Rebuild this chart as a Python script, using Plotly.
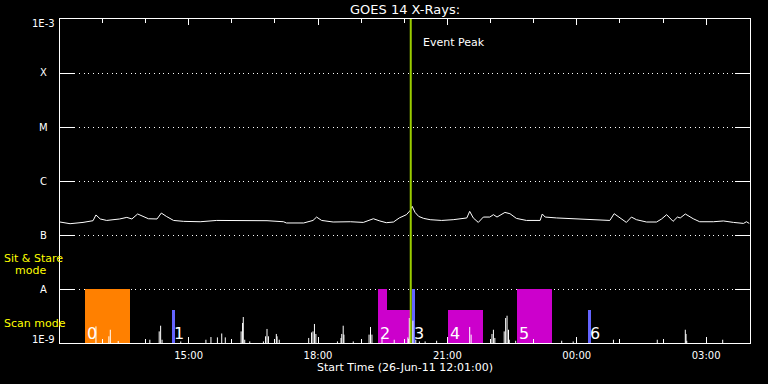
import math
import plotly.graph_objects as go
from datetime import datetime

# ---------------- data ----------------
DAY1 = "2011-06-26"
DAY2 = "2011-06-27"

title_text = "GOES 14 X-Rays:"
xlabel_text = "Start Time (26-Jun-11 12:01:00)"
x_start = "2011-06-26 12:01"
x_end = "2011-06-27 04:01"
event_peak = "2011-06-26 20:09"
event_text = "Event Peak"

level_vals = [1e-9, 1e-8, 1e-7, 1e-6, 1e-5, 1e-4, 1e-3]
level_text = ["1E-9", "A", "B", "C", "M", "X", "1E-3"]

# GOES 1-8 A flux (W/m^2)
goes_time = ["12:01", "12:15", "12:33", "12:47", "12:51", "12:57", "13:06", "13:15", "13:24", "13:34",
             "13:41", "13:49", "13:55", "14:04", "14:16", "14:22", "14:29", "14:39", "14:53", "15:16",
             "15:39", "16:02", "16:25", "16:49", "17:12", "17:16", "17:40", "17:53", "17:58", "18:05",
             "18:21", "18:45", "19:03", "19:17", "19:26", "19:35", "19:45", "19:53", "20:03", "20:08",
             "20:11", "20:15", "20:20", "20:27", "20:36", "20:52", "21:08", "21:27", "21:31", "21:36",
             "21:43", "21:50", "21:59", "22:04", "22:09", "22:20", "22:27", "22:36", "22:50", "23:09",
             "23:12", "23:16", "23:32", "00:05", "00:28", "00:46", "00:52", "01:00", "01:09", "01:16",
             "01:23", "01:37", "01:51", "01:58", "02:05", "02:14", "02:20", "02:24", "02:31", "02:42",
             "02:51", "03:10", "03:24", "03:38", "03:52", "03:56", "04:00"]
goes_flux = [1.74e-7, 1.62e-7, 1.71e-7, 1.84e-7, 2.35e-7, 1.98e-7, 1.86e-7, 1.92e-7, 1.98e-7, 2.12e-7,
             1.98e-7, 2.45e-7, 2.28e-7, 2.00e-7, 1.98e-7, 2.55e-7, 2.21e-7, 1.86e-7, 1.79e-7, 1.76e-7,
             1.86e-7, 1.86e-7, 1.82e-7, 1.84e-7, 1.76e-7, 1.67e-7, 1.67e-7, 1.86e-7, 2.15e-7, 1.86e-7,
             1.74e-7, 1.76e-7, 1.71e-7, 2.00e-7, 1.82e-7, 1.69e-7, 1.74e-7, 2.07e-7, 2.38e-7, 2.82e-7,
             3.39e-7, 2.62e-7, 2.21e-7, 2.03e-7, 1.92e-7, 1.86e-7, 1.92e-7, 2.07e-7, 2.74e-7, 2.07e-7,
             1.71e-7, 2.15e-7, 2.15e-7, 2.38e-7, 2.15e-7, 2.62e-7, 2.48e-7, 2.03e-7, 1.86e-7, 1.86e-7,
             2.45e-7, 2.15e-7, 2.07e-7, 1.98e-7, 1.92e-7, 1.86e-7, 2.48e-7, 2.07e-7, 1.71e-7, 2.15e-7,
             1.92e-7, 1.74e-7, 1.74e-7, 1.98e-7, 2.38e-7, 1.79e-7, 2.15e-7, 2.07e-7, 2.45e-7, 2.00e-7,
             1.76e-7, 1.76e-7, 1.82e-7, 1.71e-7, 1.64e-7, 1.76e-7, 1.64e-7]

# low-level flux spikes (W/m^2), floor is the axis bottom
low_floor = 1e-9
spike_time = ["12:51", "13:09", "13:11", "13:22", "14:06", "14:19", "14:21", "14:23", "14:49", "15:24",
              "15:31", "15:40", "15:46", "15:51", "16:13", "16:15", "16:16", "16:18", "16:25", "16:44",
              "16:47", "16:49", "16:51", "17:02", "17:03", "17:06", "17:47", "17:51", "17:53", "17:55",
              "17:57", "18:27", "18:32", "18:33", "18:35", "18:36", "18:49", "19:11", "19:13", "19:15",
              "19:29", "19:46", "20:05", "20:06", "20:07", "20:12", "20:16", "20:21", "20:29", "20:45",
              "21:31", "21:33", "22:02", "22:04", "22:06", "22:19", "22:21", "22:23", "22:25", "22:26",
              "22:35", "23:39", "23:55", "00:51", "01:52", "02:31", "02:32", "02:33", "03:23"]
spike_flux = [2.03e-9, 1.33e-9, 1.76e-9, 1.09e-9, 1.15e-9, 1.64e-9, 2.09e-9, 1.15e-9, 1.07e-9, 1.15e-9,
              1.29e-9, 1.27e-9, 1.50e-9, 1.27e-9, 1.64e-9, 2.35e-9, 3.03e-9, 1.15e-9, 1.07e-9, 1.07e-9,
              1.33e-9, 1.82e-9, 1.33e-9, 1.47e-9, 1.33e-9, 1.15e-9, 1.24e-9, 1.57e-9, 1.64e-9, 2.25e-9,
              1.47e-9, 1.07e-9, 1.24e-9, 1.47e-9, 2.09e-9, 1.43e-9, 1.07e-9, 1.43e-9, 1.98e-9, 1.43e-9,
              1.19e-9, 1.15e-9, 1.27e-9, 1.19e-9, 2.90e-9, 2.59e-9, 1.15e-9, 1.07e-9, 1.07e-9, 1.10e-9,
              1.98e-9, 1.43e-9, 1.47e-9, 1.76e-9, 1.24e-9, 1.64e-9, 2.90e-9, 3.20e-9, 1.76e-9, 1.15e-9,
              1.10e-9, 1.10e-9, 1.07e-9, 1.15e-9, 1.15e-9, 1.76e-9, 1.47e-9, 1.10e-9, 1.15e-9]

# observations (mode bars)
obs_label = ["0", "1", "2", "", "3", "4", "5", "6"]
obs_start = ["12:36", "14:37", "19:23", "19:36", "20:11", "21:01", "22:37", "00:16"]
obs_end = ["13:38", "14:41", "19:36", "20:08", "20:15", "21:50", "23:26", "00:20"]
obs_top = [1e-8, 4.1e-9, 1e-8, 4.1e-9, 1e-8, 4.1e-9, 1e-8, 4.1e-9]
obs_color = ["#ff8000", "#6464ff", "#cc00cc", "#cc00cc", "#6464ff", "#cc00cc", "#cc00cc", "#6464ff"]

mode_labels = ["Sit & Stare", "mode", "Scan mode"]


# ---------------- helpers ----------------
def to_dt(hhmm):
    h = int(hhmm.split(":")[0])
    day = DAY1 if h >= 12 else DAY2
    return datetime.strptime(f"{day} {hhmm}", "%Y-%m-%d %H:%M")


# plot-area geometry (pixels)
W, H = 768, 384
L, R, T, B = 60, 18, 19, 41
PW, PH = W - L - R, H - T - B


def px_x(px):
    return (px - L) / PW


def px_y(py):
    return (H - B - py) / PH


FONT = "DejaVu Sans"
fig = go.Figure()

# observation bars
bx, bw, by, bb = [], [], [], []
for s, e, top in zip(obs_start, obs_end, obs_top):
    ds, de = to_dt(s), to_dt(e)
    bx.append(ds + (de - ds) / 2)
    bw.append((de - ds).total_seconds() * 1000.0)
    by.append(top - low_floor)
    bb.append(low_floor)
fig.add_trace(go.Bar(x=bx, y=by, base=bb, width=bw, marker=dict(color=obs_color, line=dict(width=0)),
                     hoverinfo="skip", showlegend=False))

# low-level spikes as stems
sx, sy = [], []
for t, v in zip(spike_time, spike_flux):
    d = to_dt(t)
    sx += [d, d, None]
    sy += [low_floor, v, None]
fig.add_trace(go.Scatter(x=sx, y=sy, mode="lines", line=dict(color="white", width=1),
                         showlegend=False, hoverinfo="skip"))

# GOES curve
fig.add_trace(go.Scatter(x=[to_dt(t) for t in goes_time], y=goes_flux, mode="lines",
                         line=dict(color="white", width=1), showlegend=False))

# event peak line
fig.add_shape(type="line", xref="x", yref="paper", x0=event_peak, x1=event_peak, y0=0, y1=1,
              line=dict(color="#9acd00", width=2))

ann = []
ann.append(dict(text=title_text, xref="paper", yref="paper", x=0.5, y=px_y(9.5),
                xanchor="center", yanchor="middle", showarrow=False,
                font=dict(family=FONT, size=13, color="white")))
ann.append(dict(text=xlabel_text, xref="paper", yref="paper", x=0.5, y=px_y(368),
                xanchor="center", yanchor="middle", showarrow=False,
                font=dict(family=FONT, size=11, color="white")))
ann.append(dict(text=event_text, xref="x", yref="paper", x=event_peak, xshift=10, y=px_y(42.5),
                xanchor="left", yanchor="middle", showarrow=False,
                font=dict(family=FONT, size=11, color="white")))
n = len(level_vals)
for i, (v, t) in enumerate(zip(level_vals, level_text)):
    shift = -4 if i == n - 1 else (4 if i == 0 else 0)
    ann.append(dict(text=t, xref="paper", yref="paper", x=px_x(43.5),
                    y=(math.log10(v) + 9) / 6, yshift=shift,
                    xanchor="center", yanchor="middle", showarrow=False,
                    font=dict(family=FONT, size=10, color="white")))
mode_pos = [(2, 258.5), (12.7, 270.5), (2, 323.5)]
for t, (px, py) in zip(mode_labels, mode_pos):
    ann.append(dict(text=t, xref="paper", yref="paper", x=px_x(px), y=px_y(py),
                    xanchor="left", yanchor="middle", showarrow=False,
                    font=dict(family=FONT, size=11, color="#ffff00")))
for lab, s in zip(obs_label, obs_start):
    if lab:
        ann.append(dict(text=lab, xref="x", yref="paper", x=to_dt(s), y=px_y(333),
                        xanchor="left", yanchor="middle", showarrow=False,
                        font=dict(family=FONT, size=16, color="white")))

fig.update_layout(
    width=W, height=H,
    margin=dict(l=L, r=R, t=T, b=B, pad=0),
    paper_bgcolor="black", plot_bgcolor="black",
    showlegend=False, bargap=0,
    annotations=ann,
    xaxis=dict(type="date", range=[x_start, x_end], showgrid=False, zeroline=False,
               showline=True, linecolor="white", linewidth=1, mirror="ticks",
               ticks="inside", ticklen=6, tickcolor="white", tickwidth=1,
               tick0="2011-06-26 00:00", dtick=3 * 3600000, tickformat="%H:%M",
               ticklabelstandoff=3,
               tickfont=dict(family=FONT, size=10, color="white"),
               minor=dict(ticks="inside", ticklen=4, tickcolor="white", dtick=3600000,
                          tick0="2011-06-26 00:00", showgrid=False)),
    yaxis=dict(type="log", range=[-9, -3], tickvals=level_vals, showticklabels=False,
               showgrid=True, gridcolor="white", gridwidth=1, griddash="1px,3.7px",
               showline=True, linecolor="white", linewidth=1, mirror="ticks",
               ticks="inside", ticklen=15, tickcolor="white", zeroline=False),
)

fig.write_html("out.html", config={"displayModeBar": False},
               post_script="document.body.style.margin='0';")
